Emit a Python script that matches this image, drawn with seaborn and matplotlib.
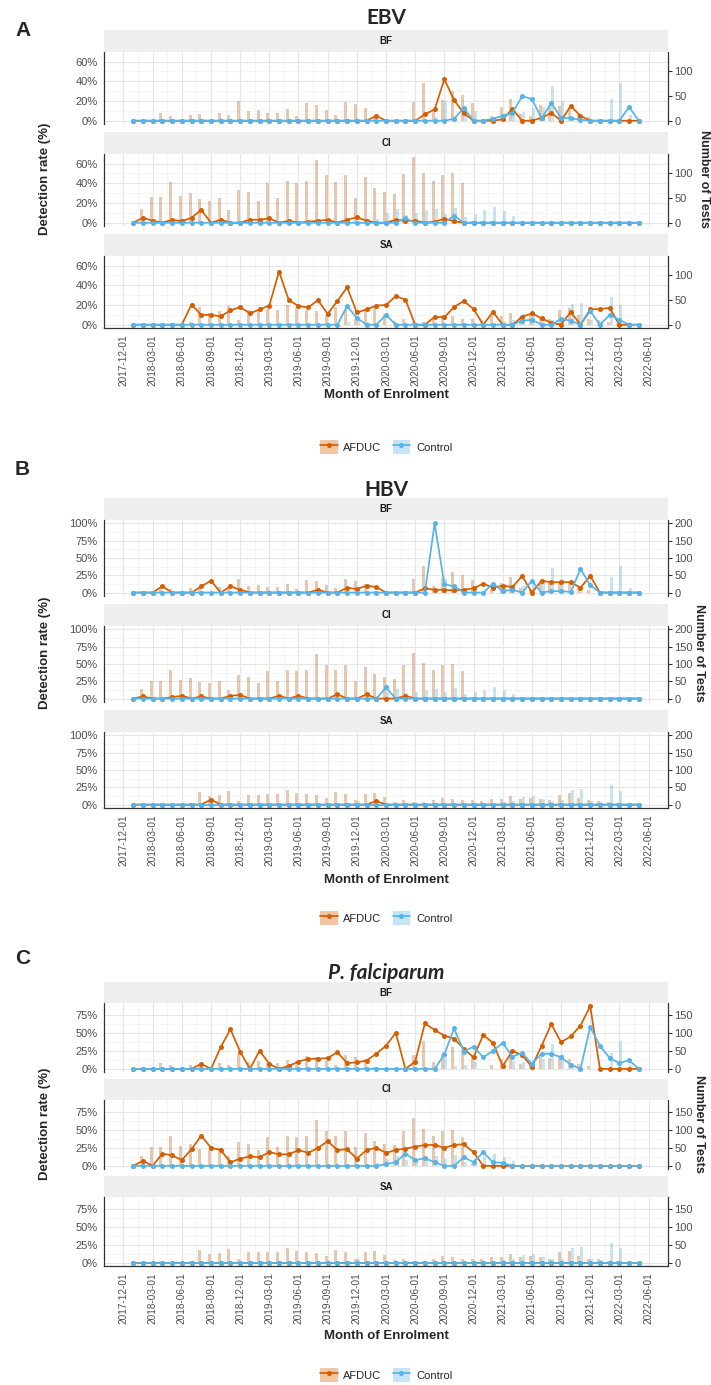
# ==============================================
# EBV / HBV / P. falciparum detection rate by month of enrolment
# three stacked facet blocks (BF, CI, SA), bars = number of tests
# ==============================================

import numpy as np
import pandas as pd
import matplotlib
matplotlib.use("Agg")
import matplotlib.pyplot as plt
import seaborn as sns
from matplotlib.lines import Line2D
from matplotlib.patches import Patch
from matplotlib.legend_handler import HandlerTuple

# ----------------------
# 1. data (month index 0 = 2018-01 ... 52 = 2022-05), one row per year
# ----------------------
months = pd.date_range("2018-01-01", "2022-05-01", freq="MS")
tick_dates = pd.date_range("2017-12-01", "2022-06-01", freq="3MS")
tick_labels = [d.strftime("%Y-%m-%d") for d in tick_dates]

# number of tests (same samples for the three pathogens)
tests_bf_afduc = [0, 0, 0, 15, 10, 0, 12, 14, 0, 16, 12, 40,
                  20, 22, 16, 16, 24, 10, 36, 32, 22, 12, 38, 34,
                  26, 5, 0, 0, 0, 38, 76, 20, 42, 60, 52, 36,
                  0, 10, 28, 45, 14, 10, 32, 30, 30, 28, 14, 8,
                  0, 0, 0, 0, 0]
tests_bf_control = [0, 0, 0, 0, 0, 0, 0, 0, 0, 0, 0, 0,
                    0, 0, 0, 0, 0, 0, 0, 0, 0, 0, 0, 0,
                    0, 0, 0, 0, 0, 0, 0, 8, 40, 8, 12, 20,
                    0, 0, 12, 22, 18, 25, 28, 70, 40, 8, 5, 0,
                    0, 44, 76, 12, 0]
tests_ci_afduc = [0, 27, 52, 52, 82, 54, 60, 48, 45, 50, 26, 67,
                  62, 44, 80, 51, 84, 80, 84, 128, 96, 83, 97, 51,
                  92, 70, 62, 58, 98, 133, 102, 84, 97, 100, 80, 4,
                  3, 3, 2, 0, 0, 0, 0, 0, 0, 0, 0, 0,
                  0, 0, 0, 0, 0]
tests_ci_control = [0, 0, 0, 0, 0, 0, 0, 0, 0, 0, 0, 0,
                    0, 0, 0, 0, 0, 0, 0, 0, 0, 0, 0, 0,
                    0, 8, 20, 28, 15, 20, 25, 28, 18, 30, 12, 18,
                    26, 32, 24, 14, 0, 0, 0, 0, 0, 0, 0, 0,
                    0, 0, 0, 0, 0]
tests_sa_afduc = [0, 0, 0, 0, 0, 0, 5, 36, 24, 27, 38, 10,
                  29, 29, 31, 30, 41, 33, 30, 27, 19, 36, 31, 12,
                  30, 33, 22, 8, 12, 6, 6, 12, 19, 17, 12, 12,
                  10, 17, 17, 24, 15, 19, 15, 12, 29, 33, 20, 12,
                  10, 6, 4, 0, 0]
tests_sa_control = [0, 0, 0, 0, 0, 0, 0, 0, 0, 0, 0, 0,
                    0, 0, 0, 0, 0, 0, 0, 0, 0, 0, 5, 10,
                    5, 0, 0, 0, 0, 0, 0, 0, 0, 0, 0, 0,
                    0, 0, 8, 10, 22, 24, 15, 10, 12, 42, 44, 10,
                    8, 56, 40, 5, 0]

# detection rate (%)
ebv_bf_afduc = [0, 0, 0, 0, 0, 0, 0, 0, 0, 0, 0, 0,
                0, 0, 0, 0, 0, 0, 0, 0, 0, 0, 0, 0,
                0, 5, 0, 0, 0, 0, 6.5, 11.5, 42, 21, 7.5, 0,
                0, 0, 1.5, 12, 0, 0, 3, 8, 0, 15, 5, 0,
                0, 0, 0, 0, 0]
ebv_bf_control = [0, 0, 0, 0, 0, 0, 0, 0, 0, 0, 0, 0,
                  0, 0, 0, 0, 0, 0, 0, 0, 0, 0, 0, 0,
                  0, 0, 0, 0, 0, 0, 0, 0, 0, 2, 13, 0,
                  0, 2, 5, 8, 25, 22, 2.5, 18, 3, 2.5, 1, 0,
                  0, 0, 0, 14, 0]
ebv_ci_afduc = [0, 5, 2, 0, 3, 1.5, 5, 13, 0, 3, 0, 0,
                3, 3, 4.5, 0, 2, 0, 1, 2, 3, 0, 3, 5.5,
                2, 0, 0, 3, 2, 2, 0, 1, 4, 1.5, 0, 0,
                0, 0, 0, 0, 0, 0, 0, 0, 0, 0, 0, 0,
                0, 0, 0, 0, 0]
ebv_ci_control = [0, 0, 0, 0, 0, 0, 0, 0, 0, 0, 0, 0,
                  0, 0, 0, 0, 0, 0, 0, 0, 0, 0, 0, 0,
                  0, 0, 0, 0, 4.5, 0, 0, 0, 0, 7, 0, 0,
                  0, 0, 0, 0, 0, 0, 0, 0, 0, 0, 0, 0,
                  0, 0, 0, 0, 0]
ebv_sa_afduc = [0, 0, 0, 0, 0, 0, 20.5, 10, 10, 8.5, 14.5, 18,
                11.5, 15.5, 19.5, 54, 25, 19, 17.5, 25, 11, 24, 38, 12.5,
                15.5, 19.5, 20, 29, 25.5, 0, 0, 8, 7.5, 18, 24, 16,
                0, 13, 0, 0, 8, 11.5, 6.5, 2, 0, 13, 0, 15.5,
                16, 17, 0, 0, 0]
ebv_sa_control = [0, 0, 0, 0, 0, 0, 0, 0, 0, 0, 0, 0,
                  0, 0, 0, 0, 0, 0, 0, 0, 0, 0, 19, 7,
                  0, 0, 10, 0, 0, 0, 0, 0, 0, 0, 0, 0,
                  0, 0, 0, 0, 4, 5, 0, 0, 6, 4, 0, 14,
                  0, 10, 5, 0, 0]

hbv_bf_afduc = [0, 0, 0, 9, 0, 0, 0, 9, 17, 0, 9, 4,
                0, 0, 0, 0, 0, 0, 0, 4, 0, 0, 7, 5,
                10, 8, 0, 0, 0, 0, 6, 4, 4, 3, 4, 6,
                13, 7, 10, 8, 24, 0, 17, 15, 15, 15, 7, 24,
                0, 0, 0, 0, 0]
hbv_bf_control = [0, 0, 0, 0, 0, 0, 0, 0, 0, 0, 0, 0,
                  0, 0, 0, 0, 0, 0, 0, 0, 0, 0, 0, 0,
                  0, 0, 0, 0, 0, 0, 0, 100, 12, 9, 0, 0,
                  0, 13, 2, 4, 0, 17, 0, 2, 2, 1, 34, 11,
                  0, 0, 0, 0, 0]
hbv_ci_afduc = [0, 3, 0, 0, 2, 4, 0, 3, 0, 0, 4, 5,
                0, 0, 0, 4, 0, 4, 0, 0, 0, 6, 0, 0,
                6, 0, 0, 0, 4, 0, 0, 0, 0, 0, 0, 0,
                0, 0, 0, 0, 0, 0, 0, 0, 0, 0, 0, 0,
                0, 0, 0, 0, 0]
hbv_ci_control = [0, 0, 0, 0, 0, 0, 0, 0, 0, 0, 0, 0,
                  0, 0, 0, 0, 0, 0, 0, 0, 0, 0, 0, 0,
                  0, 0, 16, 0, 0, 0, 0, 0, 0, 0, 0, 0,
                  0, 0, 0, 0, 0, 0, 0, 0, 0, 0, 0, 0,
                  0, 0, 0, 0, 0]
hbv_sa_afduc = [0, 0, 0, 0, 0, 0, 0, 0, 7, 0, 0, 0,
                0, 0, 0, 0, 0, 0, 0, 0, 0, 0, 0, 0,
                0, 5, 0, 0, 0, 0, 0, 0, 0, 0, 0, 0,
                0, 0, 0, 0, 0, 0, 0, 0, 0, 0, 0, 0,
                0, 0, 0, 0, 0]
hbv_sa_control = [0, 0, 0, 0, 0, 0, 0, 0, 0, 0, 0, 0,
                  0, 0, 0, 0, 0, 0, 0, 0, 0, 0, 0, 0,
                  0, 0, 0, 0, 0, 0, 0, 0, 0, 0, 0, 0,
                  0, 0, 0, 0, 0, 0, 0, 0, 0, 0, 0, 0,
                  0, 0, 0, 0, 0]

pf_bf_afduc = [0, 0, 0, 0, 0, 0, 0, 7, 0, 30, 55, 24,
               0, 25, 7, 0, 4, 10, 14, 14, 15, 23, 8, 9,
               11.5, 21, 32, 50, 0, 10, 63, 54, 46, 42, 28, 16,
               47, 36, 4, 25, 19, 3, 32, 62, 37, 45, 60, 87,
               0, 0, 0, 0, 0]
pf_bf_control = [0, 0, 0, 0, 0, 0, 0, 0, 0, 0, 0, 0,
                 0, 0, 0, 0, 0, 0, 0, 0, 0, 0, 0, 0,
                 0, 0, 0, 0, 0, 0, 0, 0, 20, 56, 24, 31,
                 16, 25, 36, 17, 22, 7, 21, 21, 16, 6, 0, 58,
                 32, 15, 8, 12, 0]
pf_ci_afduc = [0, 7, 0, 17, 14.5, 8, 23, 42, 25, 22, 5, 10,
               13, 12, 19, 16, 16, 22, 18, 25, 34, 22, 23, 10,
               22, 25, 18, 22, 24, 26.5, 29, 29, 25, 29, 30, 19,
               0, 0, 0, 0, 0, 0, 0, 0, 0, 0, 0, 0,
               0, 0, 0, 0, 0]
pf_ci_control = [0, 0, 0, 0, 0, 0, 0, 0, 0, 0, 0, 0,
                 0, 0, 0, 0, 0, 0, 0, 0, 0, 0, 0, 0,
                 0, 0, 2.5, 5, 17, 8, 10.5, 5, 0, 0, 12, 5,
                 19, 5, 4, 0, 0, 0, 0, 0, 0, 0, 0, 0,
                 0, 0, 0, 0, 0]
pf_sa_afduc = [0, 0, 0, 0, 0, 0, 0, 0, 0, 0, 0, 0,
               0, 0, 0, 0, 0, 0, 0, 0, 0, 0, 0, 0,
               0, 0, 0, 0, 0, 0, 0, 0, 0, 0, 0, 0,
               0, 0, 0, 0, 0, 0, 0, 0, 0, 0, 0, 0,
               0, 0, 0, 0, 0]
pf_sa_control = [0, 0, 0, 0, 0, 0, 0, 0, 0, 0, 0, 0,
                 0, 0, 0, 0, 0, 0, 0, 0, 0, 0, 0, 0,
                 0, 0, 0, 0, 0, 0, 0, 0, 0, 0, 0, 0,
                 0, 0, 0, 0, 0, 0, 0, 0, 0, 0, 0, 0,
                 0, 0, 0, 0, 0]

sites = ["BF", "CI", "SA"]
groups = ["AFDUC", "Control"]
palette = {"AFDUC": "#D55E00", "Control": "#56B4E9"}

tests = {"BF": (tests_bf_afduc, tests_bf_control),
         "CI": (tests_ci_afduc, tests_ci_control),
         "SA": (tests_sa_afduc, tests_sa_control)}
rates = {
    "EBV": {"BF": (ebv_bf_afduc, ebv_bf_control), "CI": (ebv_ci_afduc, ebv_ci_control),
            "SA": (ebv_sa_afduc, ebv_sa_control)},
    "HBV": {"BF": (hbv_bf_afduc, hbv_bf_control), "CI": (hbv_ci_afduc, hbv_ci_control),
            "SA": (hbv_sa_afduc, hbv_sa_control)},
    "PF": {"BF": (pf_bf_afduc, pf_bf_control), "CI": (pf_ci_afduc, pf_ci_control),
           "SA": (pf_sa_afduc, pf_sa_control)},
}

# ----------------------
# 2. layout of the three blocks (pixels from the top)
# ----------------------
W, H = 711, 1385
PX_LEFT, PX_RIGHT = 104, 668

blocks = [
    dict(key="EBV", letter="A", title="EBV", italic=False, letter_y=30, title_y=18,
         strips=[30, 132, 234], strip_h=22, panel_h=72, xlab_y=395, leg_y=447,
         rlab_x=704, ylim=(-3.33, 69.8), yticks=[0, 20, 40, 60], rticks=[0, 50, 100]),
    dict(key="HBV", letter="B", title="HBV", italic=False, letter_y=470, title_y=490,
         strips=[498, 604, 710], strip_h=22, panel_h=76, xlab_y=880, leg_y=918,
         rlab_x=699, ylim=(-5, 105), yticks=[0, 25, 50, 75, 100],
         rticks=[0, 50, 100, 150, 200]),
    dict(key="PF", letter="C", title="P. falciparum", italic=True, letter_y=958, title_y=973,
         strips=[982, 1079, 1176], strip_h=21, panel_h=69, xlab_y=1336, leg_y=1375,
         rlab_x=699, ylim=(-4.35, 91.35), yticks=[0, 25, 50, 75],
         rticks=[0, 50, 100, 150]),
]

# ----------------------
# 3. style
# ----------------------
sns.set_style("white")
plt.rcParams["font.family"] = ["Liberation Sans", "DejaVu Sans"]
plt.rcParams["axes.unicode_minus"] = False

fig = plt.figure(figsize=(W / 100, H / 100), dpi=100)


def add_px_axes(left, top, width, height, **kw):
    return fig.add_axes([left / W, 1 - (top + height) / H, width / W, height / H], **kw)


month_idx = np.arange(len(months))
tick_pos = np.arange(-1, 54, 3)


def draw_panel(ax, site, rate_pair, blk, show_x):
    bars = pd.DataFrame({
        "k": np.concatenate([month_idx, month_idx]),
        "h": np.concatenate([np.array(tests[site][0]), np.array(tests[site][1])]) / 2.0,
        "group": ["AFDUC"] * len(months) + ["Control"] * len(months),
    })
    sns.barplot(data=bars, x="k", y="h", hue="group", hue_order=groups, palette=palette,
                native_scale=True, width=0.62, alpha=0.35, errorbar=None, legend=False,
                linewidth=0, ax=ax)

    lines = pd.DataFrame({
        "k": np.concatenate([month_idx, month_idx]),
        "rate": np.concatenate([np.array(rate_pair[0]), np.array(rate_pair[1])]),
        "group": ["AFDUC"] * len(months) + ["Control"] * len(months),
    })
    sns.lineplot(data=lines, x="k", y="rate", hue="group", hue_order=groups,
                 palette=palette, marker="o", markersize=3.6, markeredgewidth=0,
                 linewidth=1.25, errorbar=None, legend=False, ax=ax)

    ax.set_xlabel("")
    ax.set_ylabel("")
    ax.set_xlim(-3, 55)
    ax.set_ylim(*blk["ylim"])
    ax.set_xticks(tick_pos)
    ax.set_xticks(tick_pos[:-1] + 1.5, minor=True)
    yt = blk["yticks"]
    ax.set_yticks(yt)
    ax.set_yticks([(a + b) / 2 for a, b in zip(yt[:-1], yt[1:])], minor=True)
    ax.set_yticklabels([f"{t}%" for t in yt])
    ax.grid(which="major", color="#E6E6E6", linewidth=0.8)
    ax.grid(which="minor", color="#F2F2F2", linewidth=0.5)
    ax.set_axisbelow(True)
    ax.tick_params(which="minor", length=0)
    ax.tick_params(axis="y", which="major", length=3, width=0.8, color="#333333",
                   labelsize=8, labelcolor="#4D4D4D", pad=1.5)
    for s in ["top", "right"]:
        ax.spines[s].set_visible(False)
    ax.spines["left"].set_color("#333333")
    ax.spines["left"].set_linewidth(0.9)
    if show_x:
        ax.spines["bottom"].set_color("#333333")
        ax.spines["bottom"].set_linewidth(0.9)
        ax.set_xticklabels(tick_labels, rotation=90)
        ax.tick_params(axis="x", which="major", length=3, width=0.8, color="#333333",
                       labelsize=7.2, labelcolor="#4D4D4D", pad=1.5)
    else:
        ax.spines["bottom"].set_visible(False)
        ax.tick_params(axis="x", which="major", length=0, labelbottom=False)

    sec = ax.secondary_yaxis("right", functions=(lambda y: y * 2, lambda t: t / 2))
    sec.set_yticks(blk["rticks"])
    sec.spines["right"].set_color("#333333")
    sec.spines["right"].set_linewidth(0.9)
    sec.tick_params(length=3, width=0.8, color="#333333", labelsize=8,
                    labelcolor="#4D4D4D", pad=1.5)


# ----------------------
# 4. draw the three blocks
# ----------------------
for blk in blocks:
    for j, site in enumerate(sites):
        top = blk["strips"][j]
        strip = add_px_axes(PX_LEFT, top, PX_RIGHT - PX_LEFT, blk["strip_h"])
        strip.set_facecolor("#EEEEEE")
        strip.set_xticks([])
        strip.set_yticks([])
        for s in strip.spines.values():
            s.set_visible(False)
        strip.text(0.5, 0.5, site, ha="center", va="center", fontsize=7,
                   fontweight="bold", color="#1A1A1A", transform=strip.transAxes)

        ax = add_px_axes(PX_LEFT, top + blk["strip_h"], PX_RIGHT - PX_LEFT, blk["panel_h"])
        draw_panel(ax, site, rates[blk["key"]][site], blk, show_x=(site == "SA"))

    y_mid = (blk["strips"][0] + blk["strips"][2] + blk["strip_h"] + blk["panel_h"]) / 2
    fig.text(15 / W, 1 - blk["letter_y"] / H, blk["letter"], fontsize=15,
             fontweight="bold", ha="left", va="center")
    fig.text(386 / W, 1 - blk["title_y"] / H, blk["title"], fontsize=15,
             fontweight="bold", fontstyle="italic" if blk["italic"] else "normal",
             family=["Lato", "DejaVu Sans"], ha="center", va="center")
    fig.text(45 / W, 1 - y_mid / H, "Detection rate (%)", rotation=90, fontsize=9.5,
             fontweight="bold", ha="center", va="center")
    fig.text(blk["rlab_x"] / W, 1 - y_mid / H, "Number of Tests", rotation=270,
             fontsize=9, fontweight="bold", ha="center", va="center")
    fig.text(386 / W, 1 - blk["xlab_y"] / H, "Month of Enrolment", fontsize=9.5,
             fontweight="bold", ha="center", va="center")

    handles = []
    for g in groups:
        patch = Patch(facecolor=palette[g], alpha=0.35, edgecolor="none")
        line = Line2D([], [], color=palette[g], marker="o", markersize=3.6,
                      markeredgewidth=0, linewidth=1.25)
        handles.append((patch, line))
    fig.legend(handles=handles, labels=groups, loc="center",
               bbox_to_anchor=(386 / W, 1 - blk["leg_y"] / H), ncol=2, frameon=False,
               fontsize=8, handlelength=1.6, handleheight=1.6, handletextpad=0.5,
               columnspacing=1.0, handler_map={tuple: HandlerTuple(ndivide=1)})

# ----------------------
# 5. save
# ----------------------
fig.savefig("out.png", dpi=100)
plt.close(fig)
print("saved out.png")
